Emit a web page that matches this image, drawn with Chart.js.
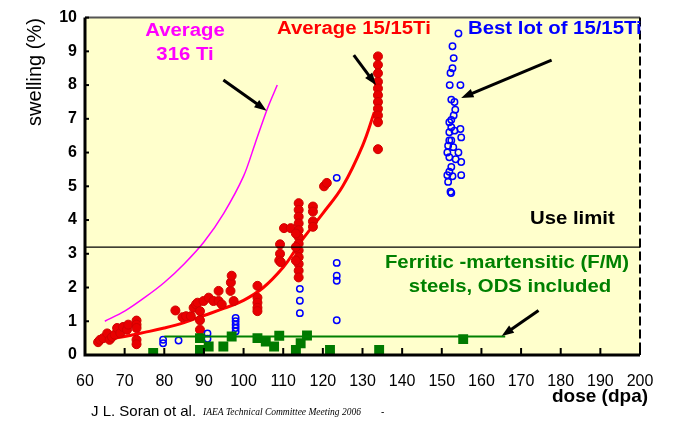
<!DOCTYPE html>
<html>
<head>
<meta charset="utf-8">
<script src="https://cdn.jsdelivr.net/npm/chart.js@4.4.0/dist/chart.umd.min.js"></script>
<style>
  html, body { margin: 0; padding: 0; background: #fff; }
  #wrap { width: 675px; height: 421px; }
</style>
</head>
<body>
<div id="wrap"><canvas id="swellChart" width="675" height="421"></canvas></div>
<script>
// dose (dpa) / swelling (%)
const xTicks = [60, 70, 80, 90, 100, 110, 120, 130, 140, 150, 160, 170, 180, 190, 200];
const yTicks = [0, 1, 2, 3, 4, 5, 6, 7, 8, 9, 10];

const fitDose = [63, 65, 70, 75, 80, 85, 90, 95, 100, 105, 110, 113, 115, 120, 125, 130, 133];
const fitSwell = [0.40, 0.45, 0.55, 0.67, 0.8, 0.96, 1.17, 1.38, 1.62, 2.0, 2.6, 3.1, 3.45, 4.2, 5.0, 6.2, 7.2];

const avg316Dose = [65, 70, 75, 80, 85, 90, 95, 100, 103, 106, 108.5];
const avg316Swell = [1.0, 1.3, 1.7, 2.15, 2.7, 3.35, 4.2, 5.3, 6.3, 7.3, 8.0];

const fmLineDose = [80, 166];
const fmLineSwell = [0.55, 0.55];

const useLimit = 3.2;

const redDose = [63.3, 63.8, 64.6, 65.6, 66.2, 66.8, 67.5, 68.1, 68.9, 69.6, 70.6, 70.9,
  73, 73, 73, 73, 73,
  82.8, 84.6, 85.5, 86.7, 87.4, 88, 88.4, 89, 89, 89, 89.9, 91.2, 92.4, 93.7, 93.7, 94.5,
  96.7, 96.8, 97, 97.5,
  103.5, 103.5, 103.5, 103.5, 103.5,
  109.2, 109.2, 109, 109.4, 110.2, 111.9,
  113.9, 113.9, 113.9, 113.9, 113.9, 113.9, 113.9, 113.9, 113.9, 113.9, 113.9, 113.9,
  113.2, 113.2, 113.2,
  117.5, 117.5, 117.5, 117.5, 120.3, 121,
  133.9, 133.9, 133.9, 133.9, 133.9, 133.9, 133.9, 133.9, 133.9, 133.9, 133.9];
const redSwell = [0.38, 0.45, 0.5, 0.64, 0.45, 0.53, 0.6, 0.8, 0.65, 0.83, 0.75, 0.9,
  1.02, 0.9, 0.8, 0.45, 0.32,
  1.32, 1.12, 1.15, 1.15, 1.4, 1.5, 1.55, 1.3, 1.03, 0.75, 1.6, 1.7, 1.6, 1.9, 1.6, 1.5,
  1.9, 2.15, 2.35, 1.6,
  2.05, 1.7, 1.55, 1.4, 1.3,
  3.28, 3.0, 2.8, 2.75, 3.76, 3.76,
  4.5, 4.3, 4.1, 3.9, 3.7, 3.5, 3.3, 3.1, 2.9, 2.7, 2.5, 2.3,
  3.6, 3.2, 2.8,
  4.4, 4.25, 3.96, 3.8, 5.0, 5.1,
  8.85, 8.6, 8.35, 8.1, 7.9, 7.7, 7.5, 7.3, 7.1, 6.9, 6.1];

const blueDose = [79.7, 79.7, 83.6, 90.9, 90.9, 98, 98, 98, 98, 98,
  114.2, 114.2, 114.2, 123.5, 123.5, 123.5, 123.5, 123.5,
  154.2, 152.7, 153, 152.7, 152.2, 152, 154.7, 152.4, 153.2, 153.4, 153, 152.4, 151.9,
  152.4, 151.9, 153.2, 154.7, 154.9, 151.9, 152.4, 151.6, 152.9, 151.4, 154.2, 151.9,
  153.5, 154.9, 152.4, 151.9, 151.4, 152.7, 154.9, 151.6, 152.2, 152.4];
const blueSwell = [0.35, 0.45, 0.43, 0.64, 0.48, 0.7, 0.8, 0.9, 1.0, 1.1,
  1.96, 1.61, 1.24, 5.25, 2.73, 2.35, 2.2, 1.03,
  9.53, 9.15, 8.8, 8.5, 8.36, 8.0, 8.0, 7.57, 7.5, 7.27, 7.1, 6.97, 6.9,
  6.75, 6.6, 6.65, 6.7, 6.45, 6.36, 6.36, 6.2, 6.16, 6.0, 6.0, 5.86,
  5.8, 5.72, 5.57, 5.43, 5.33, 5.3, 5.33, 5.13, 4.84, 4.8];

const greenDose = [77.2, 89, 89, 91.2, 94.9, 97, 103.5, 105.6, 107.7, 109, 113.2, 114.4, 116, 121.8, 134.2, 155.4];
const greenSwell = [0.06, 0.5, 0.15, 0.25, 0.25, 0.55, 0.5, 0.4, 0.25, 0.57, 0.15, 0.35, 0.58, 0.15, 0.15, 0.47];

// arrows [fromDose, fromSwell, toDose, toSwell]
const arrows = [
  [94.9, 8.15, 105.8, 7.24],
  [127.8, 8.89, 133.4, 8.0],
  [177.7, 8.74, 154.9, 7.62],
  [174.4, 1.32, 165.1, 0.56]
];

function pts(xs, ys) {
  return xs.map((x, i) => ({ x: x, y: ys[i] }));
}

const FONT = "'Liberation Sans', Arial, sans-serif";

// wide bold text, like the stretched labels of the original slide
function wideText(ctx, txt, x, y, align) {
  ctx.save();
  ctx.translate(x, y);
  ctx.scale(1.13, 1);
  ctx.textAlign = align;
  ctx.fillText(txt, 0, 0);
  ctx.restore();
}

const frame = {
  id: "frame",
  beforeDraw(chart) {
    const a = chart.chartArea, ctx = chart.ctx;
    ctx.save();
    ctx.fillStyle = "#fff";
    ctx.fillRect(0, 0, chart.width, chart.height);
    ctx.fillStyle = "#FFFFCC";
    ctx.fillRect(a.left, a.top, a.right - a.left, a.bottom - a.top);
    ctx.restore();
  },
  afterDatasetsDraw(chart) {
    const a = chart.chartArea, ctx = chart.ctx;
    const xs = chart.scales.x, ys = chart.scales.y;
    ctx.save();
    // use limit
    const yl = ys.getPixelForValue(useLimit);
    ctx.strokeStyle = "#000";
    ctx.lineWidth = 1.2;
    ctx.beginPath(); ctx.moveTo(a.left, yl); ctx.lineTo(a.right, yl); ctx.stroke();

    // border
    ctx.strokeStyle = "#555";
    ctx.lineWidth = 2;
    ctx.beginPath(); ctx.moveTo(a.left, a.top); ctx.lineTo(a.right, a.top); ctx.stroke();
    ctx.strokeStyle = "#000";
    ctx.setLineDash([9, 4]);
    ctx.beginPath(); ctx.moveTo(a.right, a.top); ctx.lineTo(a.right, a.bottom); ctx.stroke();
    ctx.setLineDash([]);
    ctx.lineWidth = 3;
    ctx.beginPath(); ctx.moveTo(a.left, a.top); ctx.lineTo(a.left, a.bottom); ctx.lineTo(a.right, a.bottom); ctx.stroke();

    // inward ticks
    ctx.lineWidth = 2;
    xTicks.forEach(v => {
      const px = xs.getPixelForValue(v);
      ctx.beginPath(); ctx.moveTo(px, a.bottom); ctx.lineTo(px, a.bottom - 7); ctx.stroke();
    });
    yTicks.forEach(v => {
      const py = ys.getPixelForValue(v);
      ctx.beginPath(); ctx.moveTo(a.left, py); ctx.lineTo(a.left + 4, py); ctx.stroke();
    });

    // arrows
    ctx.fillStyle = "#000";
    arrows.forEach(ar => {
      const x1 = xs.getPixelForValue(ar[0]), y1 = ys.getPixelForValue(ar[1]);
      const x2 = xs.getPixelForValue(ar[2]), y2 = ys.getPixelForValue(ar[3]);
      const ang = Math.atan2(y2 - y1, x2 - x1);
      ctx.lineWidth = 3;
      ctx.beginPath(); ctx.moveTo(x1, y1);
      ctx.lineTo(x2 - 8 * Math.cos(ang), y2 - 8 * Math.sin(ang)); ctx.stroke();
      ctx.beginPath();
      ctx.moveTo(x2, y2);
      ctx.lineTo(x2 - 13 * Math.cos(ang - 0.35), y2 - 13 * Math.sin(ang - 0.35));
      ctx.lineTo(x2 - 13 * Math.cos(ang + 0.35), y2 - 13 * Math.sin(ang + 0.35));
      ctx.closePath(); ctx.fill();
    });

    // annotations
    ctx.textBaseline = "middle";
    ctx.font = "bold 18px " + FONT;
    ctx.fillStyle = "#FF00FF";
    wideText(ctx, "Average", 185, 31, "center");
    wideText(ctx, "316 Ti", 185, 55, "center");
    ctx.fillStyle = "#FF0000";
    wideText(ctx, "Average 15/15Ti", 277, 29, "left");
    ctx.fillStyle = "#0000FF";
    wideText(ctx, "Best lot of 15/15Ti", 468, 29, "left");
    ctx.fillStyle = "#000";
    wideText(ctx, "Use limit", 530, 219, "left");
    ctx.fillStyle = "#008000";
    wideText(ctx, "Ferritic -martensitic (F/M)", 507, 263, "center");
    wideText(ctx, "steels, ODS included", 510, 287, "center");
    ctx.restore();
  },
  afterDraw(chart) {
    const ctx = chart.ctx;
    ctx.save();
    ctx.fillStyle = "#000";
    ctx.textBaseline = "middle";
    // y title
    ctx.translate(35, 72);
    ctx.rotate(-Math.PI / 2);
    ctx.textAlign = "center";
    ctx.font = "20px " + FONT;
    ctx.fillText("swelling (%)", 0, 0);
    ctx.setTransform(1, 0, 0, 1, 0, 0);
    // x title
    ctx.font = "bold 19px " + FONT;
    ctx.fillText("dose (dpa)", 600, 397);
    // footer
    ctx.textAlign = "left";
    ctx.font = "15px " + FONT;
    ctx.fillText("J L. Soran ot al.", 91, 412);
    ctx.font = "italic 9.5px 'Liberation Serif', serif";
    ctx.fillText("IAEA Technical Committee Meeting 2006", 203, 412);
    ctx.font = "10px " + FONT;
    ctx.fillText("-", 381, 412);
    ctx.restore();
  }
};

const ctx = document.getElementById("swellChart").getContext("2d");
const swellChart = new Chart(ctx, {
  type: "scatter",
  data: {
    datasets: [
      {
        label: "Average 316 Ti",
        type: "line",
        data: pts(avg316Dose, avg316Swell),
        borderColor: "#FF00FF",
        borderWidth: 1.5,
        pointRadius: 0,
        tension: 0.3,
        fill: false
      },
      {
        label: "F/M line",
        type: "line",
        data: pts(fmLineDose, fmLineSwell),
        borderColor: "#008000",
        borderWidth: 2,
        pointRadius: 0,
        fill: false
      },
      {
        label: "F/M steels",
        data: pts(greenDose, greenSwell),
        pointStyle: "rect",
        pointRadius: 7,
        backgroundColor: "#007A00",
        borderColor: "#007A00",
        borderWidth: 0
      },
      {
        label: "Best lot of 15/15Ti",
        data: pts(blueDose, blueSwell),
        pointStyle: "circle",
        pointRadius: 3.2,
        backgroundColor: "rgba(0,0,0,0)",
        borderColor: "#0000FF",
        borderWidth: 1.5
      },
      {
        label: "15/15Ti",
        data: pts(redDose, redSwell),
        pointStyle: "circle",
        pointRadius: 4.5,
        backgroundColor: "#E80000",
        borderColor: "#D00000",
        borderWidth: 1
      },
      {
        label: "Average 15/15Ti",
        type: "line",
        data: pts(fitDose, fitSwell),
        borderColor: "#FF0000",
        borderWidth: 3,
        pointRadius: 0,
        tension: 0.4,
        fill: false
      }
    ]
  },
  options: {
    responsive: false,
    animation: false,
    devicePixelRatio: 1,
    layout: { padding: { top: 14, right: 35, left: 0, bottom: 0 } },
    plugins: {
      legend: { display: false },
      tooltip: { enabled: false }
    },
    scales: {
      x: {
        type: "linear",
        min: 60,
        max: 200,
        grid: { display: false, drawTicks: false },
        border: { display: false },
        afterFit: function (scale) { scale.height = 66; },
        afterBuildTicks: function (scale) { scale.ticks = xTicks.map(v => ({ value: v })); },
        ticks: {
          padding: 17,
          color: "#000",
          font: { family: FONT, size: 16 },
          maxRotation: 0,
          autoSkip: false
        }
      },
      y: {
        type: "linear",
        min: 0,
        max: 10,
        grid: { display: false, drawTicks: false },
        border: { display: false },
        afterFit: function (scale) { scale.width = 85; },
        afterBuildTicks: function (scale) { scale.ticks = yTicks.map(v => ({ value: v })); },
        ticks: {
          padding: 8,
          color: "#000",
          font: { family: FONT, size: 16, weight: "bold" }
        }
      }
    }
  },
  plugins: [frame]
});
</script>
</body>
</html>
